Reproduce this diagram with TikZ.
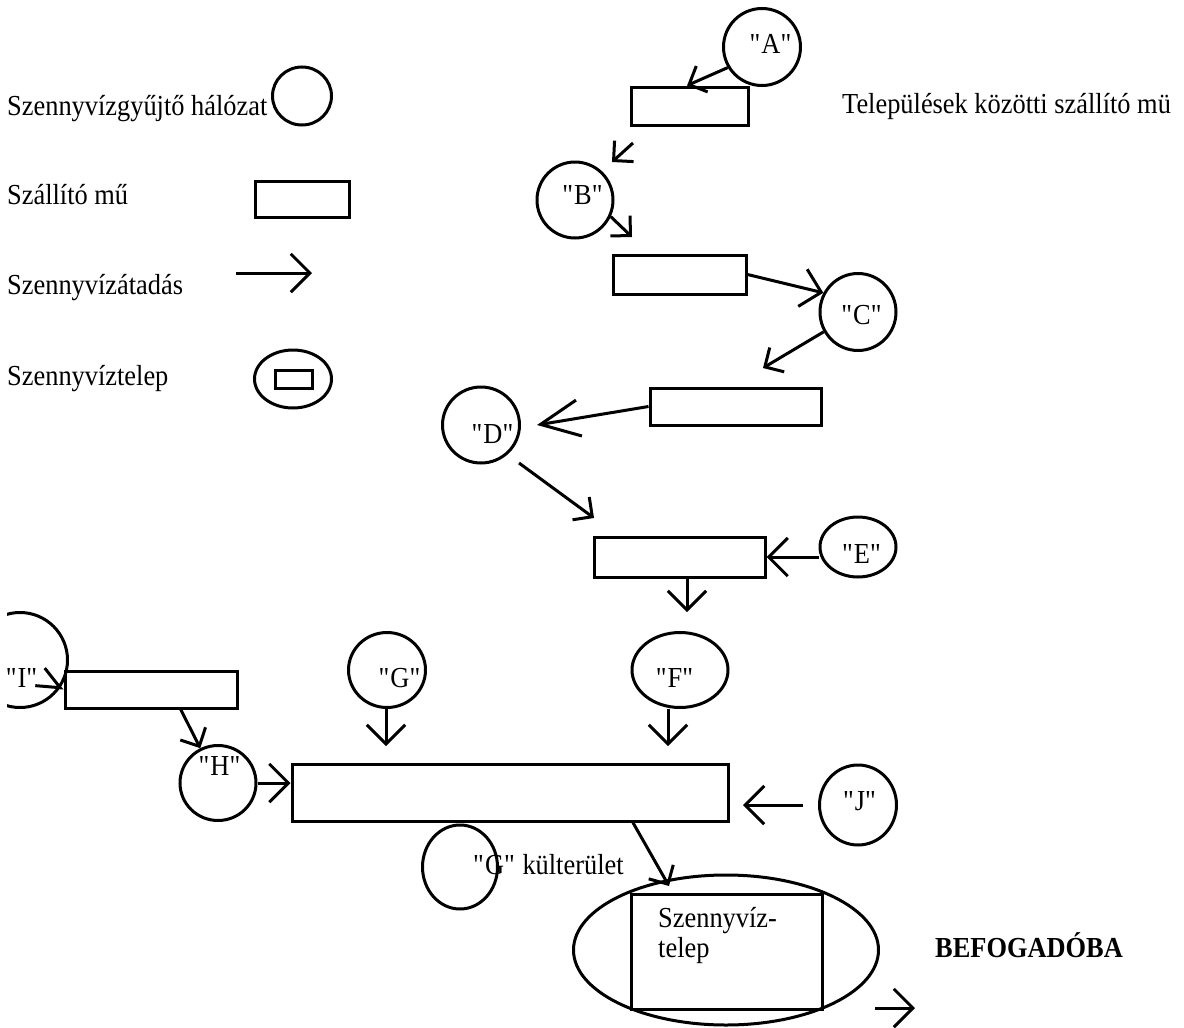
\documentclass[tikz,border=0pt]{standalone}
\usepackage{fontspec}
\setmainfont{Liberation Serif}[FakeStretch=0.91]
\usetikzlibrary{arrows.meta,shapes.geometric,calc}
\newcommand{\qd}{\textquotedbl}
\begin{document}
\begin{tikzpicture}[x=1pt,y=-1pt,
  lw/.style={line width=3pt},
  net/.style={draw, ellipse, inner sep=0pt, lw},
  work/.style={draw, rectangle, inner sep=0pt, lw},
  txt/.style={inner sep=0pt, font=\fontsize{29}{30}\selectfont},
  flow/.style={lw, line join=miter, -{Straight Barb[angle=90:20pt]}},
  flowL/.style={lw, line join=miter, -{Straight Barb[angle=90:27pt]}},
]
\useasboundingbox (0,0) rectangle (1184,1028);

% legend
\node[txt, anchor=base west] (L1) at (7,115) {Szennyvízgyűjtő hálózat};
\node[net, minimum width=59pt, minimum height=58pt] (Lc) at (302,96) {};
\node[txt, anchor=base west] (L2) at (7,204) {Szállító mű};
\node[work, minimum width=94pt, minimum height=36pt] (Lb) at (302,199) {};
\node[txt, anchor=base west] (L3) at (7,294) {Szennyvízátadás};
\coordinate (La1) at (236,273);
\coordinate (La2) at (312,273);
\draw[flowL] (La1) -- (La2);
\node[txt, anchor=base west] (L4) at (7,385) {Szennyvíztelep};
\node[net, minimum width=77pt, minimum height=58pt] (Le) at (293,379) {};
\node[work, minimum width=37pt, minimum height=18pt] (Lr) at (293.5,379) {};

\node[txt, anchor=base west] (T) at (842,113) {Települések közötti szállító mü};

% works (boxes)
\node[work, minimum width=117pt, minimum height=38pt] (b1) at (689.5,106) {};
\node[work, minimum width=133pt, minimum height=39pt] (b2) at (679.5,274.5) {};
\node[work, minimum width=171pt, minimum height=37pt] (b3) at (735.5,406.5) {};
\node[work, minimum width=171pt, minimum height=40pt] (b4) at (679.5,557) {};
\node[work, minimum width=172pt, minimum height=37pt] (bI) at (151,689.5) {};
\node[work, minimum width=436pt, minimum height=57pt] (big) at (510,792.5) {};

% networks (circles)
\node[net, minimum width=77pt, minimum height=77pt] (A) at (762,47) {};
\node[txt, anchor=base] (Al) at (771,53) {\qd A\qd};
\node[net, minimum width=76pt, minimum height=76pt] (B) at (575,200) {};
\node[txt, anchor=base] (Bl) at (583,204) {\qd B\qd};
\node[net, minimum width=76pt, minimum height=77pt] (C) at (858,312) {};
\node[txt, anchor=base] (Cl) at (862,324) {\qd C\qd};
\node[net, minimum width=77pt, minimum height=76pt] (D) at (481,425) {};
\node[txt, anchor=base] (Dl) at (493,443) {\qd D\qd};
\node[net, minimum width=76pt, minimum height=60pt] (E) at (858,547) {};
\node[txt, anchor=base] (El) at (862,563) {\qd E\qd};
\node[net, minimum width=96pt, minimum height=75pt] (F) at (680,670) {};
\node[txt, anchor=base] (Fl) at (675,687) {\qd F\qd};
\node[net, minimum width=77pt, minimum height=75pt] (G) at (387,670) {};
\node[txt, anchor=base] (Gl) at (400,687) {\qd G\qd};
\node[net, minimum width=76pt, minimum height=75pt] (H) at (218,783) {};
\node[txt, anchor=base] (Hl) at (220,775) {\qd H\qd};
\begin{scope}
  \clip (7,600) rectangle (120,720);
  \node[net, minimum width=95pt, minimum height=95pt] (I) at (20,660) {};
\end{scope}
\node[txt, anchor=base] (Il) at (22,687) {\qd I\qd};
\node[net, minimum width=77pt, minimum height=80pt] (J) at (858,805) {};
\node[txt, anchor=base] (Jl) at (860,810) {\qd J\qd};
\node[net, minimum width=75pt, minimum height=84pt] (G2) at (460,867) {};
\node[txt, anchor=base west] (G2l) at (473,874) {\qd G\qd{} külterület};

% plant
\node[net, minimum width=305pt, minimum height=150pt] (P) at (726,950) {};
\node[work, minimum width=191pt, minimum height=115pt] (Pr) at (726.5,951.5) {};
\node[txt, anchor=base west] (Pt1) at (658,927) {Szennyvíz-};
\node[txt, anchor=base west] (Pt2) at (658,957) {telep};
\node[txt, anchor=base west, font=\fontsize{29}{30}\selectfont\bfseries] (R) at (935,957) {BEFOGADÓBA};

% connectors
\draw[flow] (A.211) -- ($(b1.north west)!0.48!(b1.north east)$);
\coordinate (ab1) at (633,143);
\coordinate (ab2) at (612,162);
\draw[flow] (ab1) -- (ab2);
\coordinate (bb) at (632,237);
\draw[flow] (B.-25) -- (bb);
\draw[flowL] (b2.east) -- (C.151);
\coordinate (cb) at (763,368);
\draw[flow] (C.210) -- (cb);
\coordinate (dd) at (537,425);
\draw[lw, line join=miter, -{Straight Barb[angle=50:43pt]}] (b3.west) -- (dd);
\coordinate (d1) at (519,463);
\coordinate (d2) at (594,518);
\draw[flow] (d1) -- (d2);
\draw[flowL] (E.west |- b4.east) -- (b4.east);
\coordinate (e2) at (687,612);
\draw[flowL] (b4.south -| e2) -- (e2);
\coordinate (f2) at (668,746);
\draw[flowL] (F.south -| f2) -- (f2);
\coordinate (g2) at (386,746);
\draw[flowL] (G.south -| g2) -- (g2);
\draw[flow] ($(bI.south west)!0.67!(bI.south east)$) -- (H.117);
\draw[flowL] (H.east) -- (H.east -| big.west);
\coordinate (i1) at (57,686);
\draw[lw, line join=miter, -{Straight Barb[angle=47:25pt]}] (i1) -- (bI.west);
\coordinate (j1) at (803,805);
\coordinate (j2) at (743,805);
\draw[flowL] (j1) -- (j2);
\coordinate (p2) at (669,886);
\draw[flow] ($(big.south west)!0.78!(big.south east)$) -- (p2);
\coordinate (o1) at (875,1008);
\coordinate (o2) at (915,1008);
\draw[flowL] (o1) -- (o2);
\end{tikzpicture}
\end{document}
